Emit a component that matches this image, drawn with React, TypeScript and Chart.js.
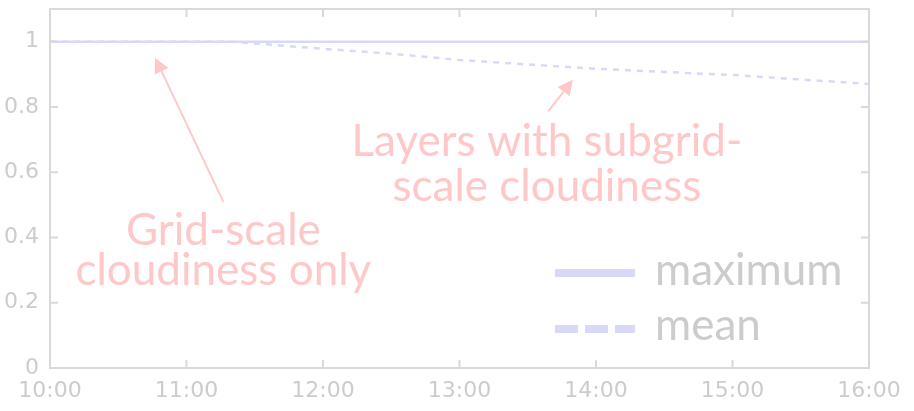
import React, { useEffect, useRef } from "react";
import { Chart, registerables } from "chart.js";

Chart.register(...registerables);

// ---- data ----
const xTickHours = [10, 11, 12, 13, 14, 15, 16];
const yTickValues = [0, 0.2, 0.4, 0.6, 0.8, 1];
const seriesLabels = ["maximum", "mean"];
const maximumTimes = [10, 16];
const maximumValues = [1, 1];
const meanTimes = [10, 11.33, 12, 12.5, 13, 13.5, 14, 14.5, 15, 15.5, 16];
const meanValues = [1, 1, 0.978, 0.963, 0.944, 0.93, 0.917, 0.907, 0.898, 0.884, 0.87];

// annotations
const gridAnnotationLines = ["Grid-scale", "cloudiness only"];
const subgridAnnotationLines = ["Layers with subgrid-", "scale cloudiness"];

// ---- layout / style constants ----
const W = 914;
const H = 411;
const LINE_COLOR = "#d8d8f9";
const AXIS_COLOR = "#d9d9d9";
const LABEL_COLOR = "#cccccc";
const NOTE_COLOR = "#ffc8c8";
const NOTE_FONT = "44px Lato";

const gridNote = { x: 11.27, baselines: [0.377, 0.255], arrowFrom: [11.27, 0.509], arrowTo: [10.77, 0.951] };
const subgridNote = { x: 13.64, baselines: [0.65, 0.511], arrowFrom: [13.65, 0.786], arrowTo: [13.83, 0.883] };

function drawArrow(ctx: CanvasRenderingContext2D, x1: number, y1: number, x2: number, y2: number) {
  const ang = Math.atan2(y2 - y1, x2 - x1);
  const headLen = 15;
  const headHalf = 7.5;
  const bx = x2 - headLen * Math.cos(ang);
  const by = y2 - headLen * Math.sin(ang);
  ctx.save();
  ctx.strokeStyle = NOTE_COLOR;
  ctx.fillStyle = NOTE_COLOR;
  ctx.lineWidth = 2;
  ctx.beginPath();
  ctx.moveTo(x1, y1);
  ctx.lineTo(bx, by);
  ctx.stroke();
  ctx.beginPath();
  ctx.moveTo(x2, y2);
  ctx.lineTo(bx + headHalf * Math.sin(ang), by - headHalf * Math.cos(ang));
  ctx.lineTo(bx - headHalf * Math.sin(ang), by + headHalf * Math.cos(ang));
  ctx.closePath();
  ctx.fill();
  ctx.restore();
}

const decorPlugin = {
  id: "decor",
  afterDatasetsDraw(chart: any) {
    const { ctx, chartArea: a, scales } = chart;
    const xs = scales.x;
    const ys = scales.y;
    ctx.save();
    // box
    ctx.strokeStyle = AXIS_COLOR;
    ctx.lineWidth = 2;
    ctx.strokeRect(a.left, a.top, a.right - a.left, a.bottom - a.top);
    // inward ticks, mirrored
    ctx.beginPath();
    xTickHours.forEach((h) => {
      const px = xs.getPixelForValue(h);
      ctx.moveTo(px, a.bottom);
      ctx.lineTo(px, a.bottom - 8);
      ctx.moveTo(px, a.top);
      ctx.lineTo(px, a.top + 8);
    });
    yTickValues.forEach((v) => {
      const py = ys.getPixelForValue(v);
      ctx.moveTo(a.left, py);
      ctx.lineTo(a.left + 8, py);
      ctx.moveTo(a.right, py);
      ctx.lineTo(a.right - 8, py);
    });
    ctx.stroke();

    // annotations
    ctx.fillStyle = NOTE_COLOR;
    ctx.font = NOTE_FONT;
    ctx.textAlign = "center";
    ctx.textBaseline = "alphabetic";
    [
      [gridNote, gridAnnotationLines],
      [subgridNote, subgridAnnotationLines],
    ].forEach(([note, lines]: any) => {
      lines.forEach((t: string, i: number) => {
        ctx.fillText(t, xs.getPixelForValue(note.x), ys.getPixelForValue(note.baselines[i]));
      });
      drawArrow(
        ctx,
        xs.getPixelForValue(note.arrowFrom[0]),
        ys.getPixelForValue(note.arrowFrom[1]),
        xs.getPixelForValue(note.arrowTo[0]),
        ys.getPixelForValue(note.arrowTo[1])
      );
    });

    // legend (inside, lower right)
    const rows = [
      { lineY: a.bottom - 95, textY: a.bottom - 83, dash: [] as number[] },
      { lineY: a.bottom - 39, textY: a.bottom - 28, dash: [23, 7] },
    ];
    chart.data.datasets.forEach((ds: any, i: number) => {
      const r = rows[i];
      ctx.save();
      ctx.strokeStyle = LINE_COLOR;
      ctx.lineWidth = 8;
      ctx.setLineDash(r.dash);
      ctx.beginPath();
      ctx.moveTo(a.right - 314, r.lineY);
      ctx.lineTo(a.right - 234, r.lineY);
      ctx.stroke();
      ctx.restore();
      ctx.fillStyle = LABEL_COLOR;
      ctx.font = "44px Lato";
      ctx.textAlign = "left";
      ctx.fillText(ds.label, a.right - 214, r.textY);
    });
    ctx.restore();
  },
};

export default function App() {
  const ref = useRef<HTMLCanvasElement | null>(null);
  useEffect(() => {
    if (!ref.current) return;
    const chart = new Chart(ref.current, {
      type: "line",
      data: {
        datasets: [
          {
            label: seriesLabels[0],
            data: maximumTimes.map((t, i) => ({ x: t, y: maximumValues[i] })),
            borderColor: LINE_COLOR,
            borderWidth: 2.5,
            pointRadius: 0,
            fill: false,
          },
          {
            label: seriesLabels[1],
            data: meanTimes.map((t, i) => ({ x: t, y: meanValues[i] })),
            borderColor: LINE_COLOR,
            borderWidth: 2.5,
            borderDash: [6, 6],
            pointRadius: 0,
            fill: false,
          },
        ],
      },
      options: {
        animation: false,
        responsive: false,
        layout: { padding: { top: 9, right: 45, left: 0, bottom: 0 } },
        plugins: { legend: { display: false }, tooltip: { enabled: false } },
        scales: {
          x: {
            type: "linear",
            min: 10,
            max: 16,
            afterFit: (s: any) => {
              s.height = 43;
            },
            afterBuildTicks: (s: any) => {
              s.ticks = xTickHours.map((v) => ({ value: v }));
            },
            grid: { display: false, drawTicks: false },
            border: { display: false },
            ticks: {
              padding: 10,
              color: LABEL_COLOR,
              font: { family: "DejaVu Sans", size: 22 },
              maxRotation: 0,
              autoSkip: false,
              callback: (v: any) => `${v}:00`,
            },
          },
          y: {
            type: "linear",
            min: 0,
            max: 1.1,
            afterFit: (s: any) => {
              s.width = 50;
              s.paddingTop = 0;
              s.paddingBottom = 0;
            },
            afterBuildTicks: (s: any) => {
              s.ticks = yTickValues.map((v) => ({ value: v }));
            },
            grid: { display: false, drawTicks: false },
            border: { display: false },
            ticks: {
              padding: 11,
              color: LABEL_COLOR,
              font: { family: "DejaVu Sans", size: 22, lineHeight: 0.5 },
              callback: (v: any) => String(Number(Number(v).toFixed(1))),
            },
          },
        },
      },
      plugins: [decorPlugin],
    } as any);
    return () => chart.destroy();
  }, []);
  return (
    <div style={{ position: "absolute", left: 0, top: 0, width: W, height: H, background: "#fff" }}>
      <canvas ref={ref} width={W} height={H} style={{ display: "block" }} />
    </div>
  );
}
